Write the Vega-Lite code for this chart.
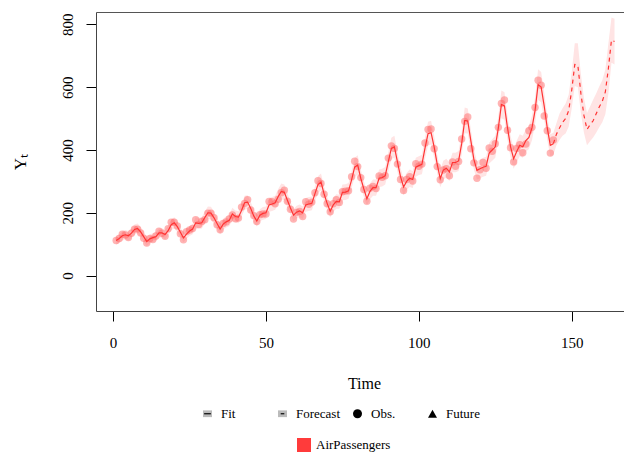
{
  "$schema": "https://vega.github.io/schema/vega-lite/v6.json",
  "width": 528,
  "height": 299,
  "autosize": {"type": "none"},
  "padding": {"left": 96, "top": 12, "right": 0, "bottom": 143},
  "background": "white",
  "config": {
    "view": {"stroke": null},
    "font": "Liberation Serif",
    "axis": {"grid": false, "labelColor": "#000", "tickColor": "#000", "titleColor": "#000", "titleFontWeight": "normal", "labelFont": "Liberation Serif", "titleFont": "Liberation Serif"},
    "legend": {"labelFont": "Liberation Serif", "labelFontSize": 13, "labelColor": "#000", "symbolOpacity": 1, "padding": 0, "offset": 0}
  },
  "datasets": {
    "main": [
      {"t":1,"obs":112,"fit":112},{"t":2,"obs":118,"fit":118},{"t":3,"obs":132,"fit":127},{"t":4,"obs":129,"fit":130},{"t":5,"obs":121,"fit":127},{"t":6,"obs":135,"fit":135},{"t":7,"obs":148,"fit":147},{"t":8,"obs":148,"fit":150},{"t":9,"obs":136,"fit":139},{"t":10,"obs":119,"fit":124},{"t":11,"obs":104,"fit":108},{"t":12,"obs":118,"fit":117},
      {"t":13,"obs":115,"fit":121},{"t":14,"obs":126,"fit":124},{"t":15,"obs":141,"fit":136},{"t":16,"obs":135,"fit":136},{"t":17,"obs":125,"fit":131},{"t":18,"obs":149,"fit":143},{"t":19,"obs":170,"fit":162},{"t":20,"obs":170,"fit":168},{"t":21,"obs":158,"fit":156},{"t":22,"obs":133,"fit":138},{"t":23,"obs":114,"fit":120},{"t":24,"obs":140,"fit":132},
      {"t":25,"obs":145,"fit":142},{"t":26,"obs":150,"fit":148},{"t":27,"obs":178,"fit":168},{"t":28,"obs":163,"fit":166},{"t":29,"obs":172,"fit":168},{"t":30,"obs":178,"fit":185},{"t":31,"obs":199,"fit":200},{"t":32,"obs":199,"fit":199},{"t":33,"obs":184,"fit":184},{"t":34,"obs":162,"fit":166},{"t":35,"obs":146,"fit":148},{"t":36,"obs":166,"fit":164},
      {"t":37,"obs":171,"fit":171},{"t":38,"obs":180,"fit":176},{"t":39,"obs":193,"fit":196},{"t":40,"obs":181,"fit":188},{"t":41,"obs":183,"fit":186},{"t":42,"obs":218,"fit":207},{"t":43,"obs":230,"fit":232},{"t":44,"obs":242,"fit":234},{"t":45,"obs":209,"fit":214},{"t":46,"obs":191,"fit":190},{"t":47,"obs":172,"fit":174},{"t":48,"obs":194,"fit":192},
      {"t":49,"obs":196,"fit":198},{"t":50,"obs":196,"fit":200},{"t":51,"obs":236,"fit":225},{"t":52,"obs":235,"fit":228},{"t":53,"obs":229,"fit":232},{"t":54,"obs":243,"fit":252},{"t":55,"obs":264,"fit":268},{"t":56,"obs":272,"fit":265},{"t":57,"obs":237,"fit":240},{"t":58,"obs":211,"fit":215},{"t":59,"obs":180,"fit":192},{"t":60,"obs":201,"fit":202},
      {"t":61,"obs":204,"fit":206},{"t":62,"obs":188,"fit":200},{"t":63,"obs":235,"fit":225},{"t":64,"obs":227,"fit":228},{"t":65,"obs":234,"fit":230},{"t":66,"obs":264,"fit":260},{"t":67,"obs":302,"fit":290},{"t":68,"obs":293,"fit":298},{"t":69,"obs":259,"fit":260},{"t":70,"obs":229,"fit":230},{"t":71,"obs":203,"fit":205},{"t":72,"obs":229,"fit":225},
      {"t":73,"obs":242,"fit":236},{"t":74,"obs":233,"fit":235},{"t":75,"obs":267,"fit":265},{"t":76,"obs":269,"fit":266},{"t":77,"obs":270,"fit":270},{"t":78,"obs":315,"fit":305},{"t":79,"obs":364,"fit":345},{"t":80,"obs":347,"fit":352},{"t":81,"obs":312,"fit":310},{"t":82,"obs":274,"fit":276},{"t":83,"obs":237,"fit":245},{"t":84,"obs":278,"fit":268},
      {"t":85,"obs":284,"fit":280},{"t":86,"obs":277,"fit":280},{"t":87,"obs":317,"fit":310},{"t":88,"obs":313,"fit":312},{"t":89,"obs":318,"fit":318},{"t":90,"obs":374,"fit":362},{"t":91,"obs":413,"fit":405},{"t":92,"obs":405,"fit":410},{"t":93,"obs":355,"fit":362},{"t":94,"obs":306,"fit":315},{"t":95,"obs":271,"fit":282},{"t":96,"obs":306,"fit":300},
      {"t":97,"obs":315,"fit":310},{"t":98,"obs":301,"fit":306},{"t":99,"obs":356,"fit":345},{"t":100,"obs":348,"fit":350},{"t":101,"obs":355,"fit":354},{"t":102,"obs":422,"fit":405},{"t":103,"obs":465,"fit":452},{"t":104,"obs":467,"fit":455},{"t":105,"obs":404,"fit":410},{"t":106,"obs":347,"fit":355},{"t":107,"obs":305,"fit":309},{"t":108,"obs":336,"fit":336},
      {"t":109,"obs":340,"fit":342},{"t":110,"obs":318,"fit":330},{"t":111,"obs":362,"fit":360},{"t":112,"obs":348,"fit":360},{"t":113,"obs":363,"fit":365},{"t":114,"obs":435,"fit":420},{"t":115,"obs":491,"fit":494},{"t":116,"obs":505,"fit":492},{"t":117,"obs":404,"fit":430},{"t":118,"obs":359,"fit":370},{"t":119,"obs":310,"fit":335},{"t":120,"obs":337,"fit":340},
      {"t":121,"obs":360,"fit":345},{"t":122,"obs":342,"fit":348},{"t":123,"obs":406,"fit":390},{"t":124,"obs":396,"fit":400},{"t":125,"obs":420,"fit":410},{"t":126,"obs":472,"fit":470},{"t":127,"obs":548,"fit":545},{"t":128,"obs":559,"fit":540},{"t":129,"obs":463,"fit":470},{"t":130,"obs":407,"fit":410},{"t":131,"obs":362,"fit":372},{"t":132,"obs":405,"fit":395},
      {"t":133,"obs":417,"fit":415},{"t":134,"obs":391,"fit":410},{"t":135,"obs":419,"fit":430},{"t":136,"obs":461,"fit":440},{"t":137,"obs":472,"fit":470},{"t":138,"obs":535,"fit":525},{"t":139,"obs":622,"fit":608},{"t":140,"obs":606,"fit":600},{"t":141,"obs":508,"fit":540},{"t":142,"obs":461,"fit":470},{"t":143,"obs":390,"fit":415},{"t":144,"obs":432,"fit":420}
    ],
    "band": [
      {"t":1,"lo":98,"hi":126},{"t":2,"lo":104,"hi":132},{"t":3,"lo":112,"hi":142},{"t":4,"lo":115,"hi":145},{"t":5,"lo":112,"hi":142},{"t":6,"lo":120,"hi":150},{"t":7,"lo":131,"hi":163},{"t":8,"lo":134,"hi":166},{"t":9,"lo":123,"hi":155},{"t":10,"lo":109,"hi":139},{"t":11,"lo":94,"hi":122},{"t":12,"lo":103,"hi":131},
      {"t":13,"lo":107,"hi":135},{"t":14,"lo":109,"hi":139},{"t":15,"lo":121,"hi":151},{"t":16,"lo":121,"hi":151},{"t":17,"lo":116,"hi":146},{"t":18,"lo":127,"hi":159},{"t":19,"lo":145,"hi":179},{"t":20,"lo":150,"hi":186},{"t":21,"lo":139,"hi":173},{"t":22,"lo":122,"hi":154},{"t":23,"lo":106,"hi":134},{"t":24,"lo":117,"hi":147},
      {"t":25,"lo":126,"hi":158},{"t":26,"lo":132,"hi":164},{"t":27,"lo":150,"hi":186},{"t":28,"lo":148,"hi":184},{"t":29,"lo":150,"hi":186},{"t":30,"lo":166,"hi":204},{"t":31,"lo":180,"hi":220},{"t":32,"lo":179,"hi":219},{"t":33,"lo":165,"hi":203},{"t":34,"lo":148,"hi":184},{"t":35,"lo":132,"hi":164},{"t":36,"lo":147,"hi":181},
      {"t":37,"lo":153,"hi":189},{"t":38,"lo":158,"hi":194},{"t":39,"lo":176,"hi":216},{"t":40,"lo":169,"hi":207},{"t":41,"lo":167,"hi":205},{"t":42,"lo":187,"hi":227},{"t":43,"lo":210,"hi":254},{"t":44,"lo":212,"hi":256},{"t":45,"lo":193,"hi":235},{"t":46,"lo":171,"hi":209},{"t":47,"lo":156,"hi":192},{"t":48,"lo":173,"hi":211},
      {"t":49,"lo":178,"hi":218},{"t":50,"lo":180,"hi":220},{"t":51,"lo":203,"hi":247},{"t":52,"lo":206,"hi":250},{"t":53,"lo":210,"hi":254},{"t":54,"lo":228,"hi":276},{"t":55,"lo":243,"hi":293},{"t":56,"lo":240,"hi":290},{"t":57,"lo":217,"hi":263},{"t":58,"lo":194,"hi":236},{"t":59,"lo":173,"hi":211},{"t":60,"lo":182,"hi":222},
      {"t":61,"lo":186,"hi":226},{"t":62,"lo":180,"hi":220},{"t":63,"lo":203,"hi":247},{"t":64,"lo":206,"hi":250},{"t":65,"lo":208,"hi":252},{"t":66,"lo":236,"hi":284},{"t":67,"lo":264,"hi":316},{"t":68,"lo":271,"hi":325},{"t":69,"lo":236,"hi":284},{"t":70,"lo":208,"hi":252},{"t":71,"lo":185,"hi":225},{"t":72,"lo":203,"hi":247},
      {"t":73,"lo":213,"hi":259},{"t":74,"lo":213,"hi":257},{"t":75,"lo":240,"hi":290},{"t":76,"lo":241,"hi":291},{"t":77,"lo":245,"hi":295},{"t":78,"lo":278,"hi":332},{"t":79,"lo":315,"hi":375},{"t":80,"lo":321,"hi":383},{"t":81,"lo":282,"hi":338},{"t":82,"lo":251,"hi":301},{"t":83,"lo":222,"hi":268},{"t":84,"lo":243,"hi":293},
      {"t":85,"lo":254,"hi":306},{"t":86,"lo":254,"hi":306},{"t":87,"lo":282,"hi":338},{"t":88,"lo":284,"hi":340},{"t":89,"lo":290,"hi":346},{"t":90,"lo":331,"hi":393},{"t":91,"lo":371,"hi":439},{"t":92,"lo":375,"hi":445},{"t":93,"lo":331,"hi":393},{"t":94,"lo":287,"hi":343},{"t":95,"lo":256,"hi":308},{"t":96,"lo":273,"hi":327},
      {"t":97,"lo":282,"hi":338},{"t":98,"lo":279,"hi":333},{"t":99,"lo":315,"hi":375},{"t":100,"lo":320,"hi":380},{"t":101,"lo":323,"hi":385},{"t":102,"lo":371,"hi":439},{"t":103,"lo":414,"hi":490},{"t":104,"lo":417,"hi":493},{"t":105,"lo":375,"hi":445},{"t":106,"lo":324,"hi":386},{"t":107,"lo":281,"hi":337},{"t":108,"lo":306,"hi":366},
      {"t":109,"lo":312,"hi":372},{"t":110,"lo":301,"hi":359},{"t":111,"lo":329,"hi":391},{"t":112,"lo":329,"hi":391},{"t":113,"lo":333,"hi":397},{"t":114,"lo":385,"hi":455},{"t":115,"lo":453,"hi":535},{"t":116,"lo":452,"hi":532},{"t":117,"lo":394,"hi":466},{"t":118,"lo":338,"hi":402},{"t":119,"lo":306,"hi":364},{"t":120,"lo":310,"hi":370},
      {"t":121,"lo":315,"hi":375},{"t":122,"lo":318,"hi":378},{"t":123,"lo":357,"hi":423},{"t":124,"lo":366,"hi":434},{"t":125,"lo":375,"hi":445},{"t":126,"lo":431,"hi":509},{"t":127,"lo":501,"hi":589},{"t":128,"lo":496,"hi":584},{"t":129,"lo":431,"hi":509},{"t":130,"lo":375,"hi":445},{"t":131,"lo":340,"hi":404},{"t":132,"lo":361,"hi":429},
      {"t":133,"lo":380,"hi":450},{"t":134,"lo":375,"hi":445},{"t":135,"lo":394,"hi":466},{"t":136,"lo":403,"hi":477},{"t":137,"lo":431,"hi":509},{"t":138,"lo":482,"hi":568},{"t":139,"lo":559,"hi":657},{"t":140,"lo":552,"hi":648},{"t":141,"lo":496,"hi":584},{"t":142,"lo":431,"hi":509},{"t":143,"lo":380,"hi":450},{"t":144,"lo":385,"hi":455},
      {"t":145,"lo":415,"hi":485},{"t":146,"lo":432,"hi":515},{"t":147,"lo":445,"hi":533},{"t":148,"lo":452,"hi":548},{"t":149,"lo":474,"hi":576},{"t":150,"lo":532,"hi":648},{"t":151,"lo":604,"hi":740},{"t":152,"lo":600,"hi":740},{"t":153,"lo":518,"hi":642},{"t":154,"lo":455,"hi":565},{"t":155,"lo":415,"hi":518},{"t":156,"lo":428,"hi":538},
      {"t":157,"lo":440,"hi":560},{"t":158,"lo":455,"hi":580},{"t":159,"lo":472,"hi":602},{"t":160,"lo":488,"hi":622},{"t":161,"lo":514,"hi":656},{"t":162,"lo":580,"hi":740},{"t":163,"lo":678,"hi":822},{"t":164,"lo":672,"hi":818}
    ],
    "fc": [
      {"t":144,"fc":420},{"t":145,"fc":450},{"t":146,"fc":470},{"t":147,"fc":488},{"t":148,"fc":500},{"t":149,"fc":525},{"t":150,"fc":590},{"t":151,"fc":672},{"t":152,"fc":670},{"t":153,"fc":580},{"t":154,"fc":510},
      {"t":155,"fc":465},{"t":156,"fc":480},{"t":157,"fc":493},{"t":158,"fc":515},{"t":159,"fc":537},{"t":160,"fc":555},{"t":161,"fc":585},{"t":162,"fc":660},{"t":163,"fc":750},{"t":164,"fc":745}
    ],
    "legA": [{"ka":"a"},{"ka":"b"},{"ka":"c"},{"ka":"d"}],
    "legB": [{"kb":"Fit"},{"kb":"Forecast"},{"kb":"Obs."},{"kb":"Future"}],
    "ser": [{"s":"AirPassengers"}]
  },
  "layer": [
    {
      "data": {"name": "band"},
      "mark": {"type": "area", "color": "#FFE4E4", "opacity": 1},
      "encoding": {
        "x": {"field": "t", "type": "quantitative", "scale": {"domain": [-5.6, 167.1], "nice": false, "zero": false},
          "axis": {"orient": "bottom", "values": [0, 50, 100, 150], "domainColor": "#444", "tickSize": 10, "labelFontSize": 15, "labelPadding": 14, "labelFlush": false, "title": "Time", "titleFontSize": 16, "titlePadding": 25, "titleX": 268}},
        "y": {"field": "lo", "type": "quantitative", "scale": {"domain": [-112.7, 839.2], "nice": false, "zero": false}, "title": "Yₜ",
          "axis": {"values": [0, 200, 400, 600, 800], "domainColor": "#444", "tickSize": 10, "labelFontSize": 15, "labelAngle": 270, "labelAlign": "center", "labelBaseline": "bottom", "labelPadding": 11, "titleFontSize": 17, "titlePadding": 31}},
        "y2": {"field": "hi"}
      }
    },
    {
      "data": {"name": "main"},
      "mark": {"type": "point", "filled": true, "color": "#FF6A6A", "opacity": 0.5, "size": 55, "strokeWidth": 0},
      "encoding": {
        "x": {"field": "t", "type": "quantitative", "axis": null},
        "y": {"field": "obs", "type": "quantitative", "title": "Yₜ"}
      }
    },
    {
      "data": {"name": "main"},
      "mark": {"type": "line", "color": "#FF3333", "strokeWidth": 1.2},
      "encoding": {
        "x": {"field": "t", "type": "quantitative", "axis": null},
        "y": {"field": "fit", "type": "quantitative", "title": "Yₜ"}
      }
    },
    {
      "data": {"name": "fc"},
      "mark": {"type": "line", "color": "#FF3333", "strokeWidth": 1.2, "strokeDash": [4, 4]},
      "encoding": {
        "x": {"field": "t", "type": "quantitative", "axis": {"orient": "top", "labels": false, "ticks": false, "domainColor": "#555", "title": null}},
        "y": {"field": "fc", "type": "quantitative", "title": "Yₜ"}
      }
    },
    {
      "data": {"name": "legA"},
      "mark": {"type": "point", "filled": true, "opacity": 0, "shape": "M-1,-0.75H1V0.75H-1Z"},
      "encoding": {
        "fill": {"field": "ka", "type": "nominal",
          "scale": {"domain": ["a", "b", "c", "d"], "range": ["#BBBBBB", "#BBBBBB", "rgba(0,0,0,0)", "rgba(0,0,0,0)"]},
          "legend": {"orient": "none", "legendX": 105, "legendY": 395, "direction": "horizontal", "columns": 4, "gridAlign": "all", "columnPadding": 10, "labelOffset": 7, "symbolSize": 81, "symbolType": "M-1,-0.75H1V0.75H-1Z", "symbolStrokeWidth": 0, "symbolOpacity": 1, "labelOpacity": 0, "title": null,
            "labelExpr": "datum.label == 'a' ? 'Fit' : datum.label == 'b' ? 'Forecast' : datum.label == 'c' ? 'Obs.' : 'Future'",
            "encode": {"symbols": {"update": {"opacity": {"value": 1}}}}}}
      }
    },
    {
      "data": {"name": "legB"},
      "mark": {"type": "point", "filled": true, "opacity": 0, "color": "#000"},
      "encoding": {
        "shape": {"field": "kb", "type": "nominal",
          "scale": {"domain": ["Fit", "Forecast", "Obs.", "Future"], "range": ["M-0.75,-0.13H0.75V0.13H-0.75Z", "M-0.4,-0.13H0.4V0.13H-0.4Z", "circle", "triangle-up"]},
          "legend": {"orient": "none", "legendX": 105, "legendY": 395, "direction": "horizontal", "columns": 4, "gridAlign": "all", "columnPadding": 10, "labelOffset": 7, "symbolSize": 81, "symbolFillColor": "#000", "symbolStrokeWidth": 0, "symbolOpacity": 1, "title": null,
            "encode": {"symbols": {"update": {"opacity": {"value": 1}, "fill": {"value": "#000"}}}}}}
      }
    },
    {
      "data": {"name": "ser"},
      "mark": {"type": "square", "filled": true, "opacity": 0},
      "encoding": {
        "color": {"field": "s", "type": "nominal", "scale": {"range": ["#FF3B3B"]},
          "legend": {"orient": "none", "legendX": 201, "legendY": 426, "symbolSize": 196, "symbolType": "square", "symbolStrokeWidth": 0, "symbolOpacity": 1, "labelOffset": 5, "title": null,
            "encode": {"symbols": {"update": {"opacity": {"value": 1}}}}}}
      }
    }
  ],
  "resolve": {"axis": {"x": "independent"}}
}
